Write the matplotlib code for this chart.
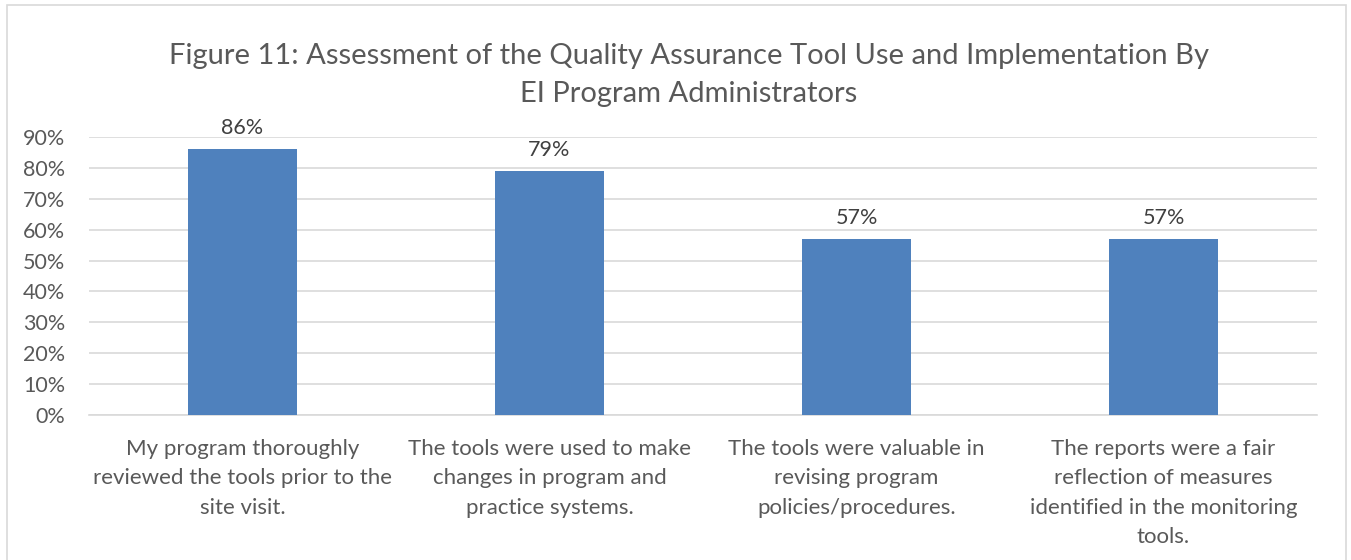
import numpy as np
import matplotlib.pyplot as plt
from matplotlib.patches import Rectangle

plt.rcParams['font.family'] = ['Lato', 'DejaVu Sans']

categories = [
    'My program thoroughly\nreviewed the tools prior to the\nsite visit.',
    'The tools were used to make\nchanges in program and\npractice systems.',
    'The tools were valuable in\nrevising program\npolicies/procedures.',
    'The reports were a fair\nreflection of measures\nidentified in the monitoring\ntools.',
]
values = [0.86, 0.79, 0.57, 0.57]
yticks = [0, 0.1, 0.2, 0.3, 0.4, 0.5, 0.6, 0.7, 0.8, 0.9]
ytick_labels = ['0%', '10%', '20%', '30%', '40%', '50%', '60%', '70%', '80%', '90%']

text_color = '#595959'
grid_color = '#D9D9D9'

fig = plt.figure(figsize=(13.51, 5.6), dpi=100)
fig.patches.append(Rectangle((7 / 1351, -0.1), 1339 / 1351, 1.1 - 5 / 560,
                             transform=fig.transFigure, fill=False,
                             edgecolor=grid_color, linewidth=1.2))

ax = fig.add_axes([89 / 1351, 145 / 560, 1228 / 1351, 278 / 560])
x = np.arange(len(categories))
bars = ax.bar(x, values, width=0.355, color='#4F81BD', zorder=3)

for b, v in zip(bars, values):
    ax.text(b.get_x() + b.get_width() / 2, v + 0.037, f'{v:.0%}',
            ha='center', va='bottom', fontsize=15.5, color='#404040')

ax.set_xlim(-0.5, len(categories) - 0.5)
ax.set_ylim(0, 0.9)
ax.set_yticks(yticks)
ax.set_yticklabels(ytick_labels, fontsize=15.5, color=text_color)
ax.set_xticks(x)
ax.set_xticklabels(categories, fontsize=16, color=text_color, linespacing=1.6)
ax.tick_params(axis='both', length=0)
ax.tick_params(axis='y', pad=17)
ax.tick_params(axis='x', pad=17)
ax.grid(axis='y', color=grid_color, linewidth=1.2, zorder=0)
for s in ['top', 'right', 'left']:
    ax.spines[s].set_visible(False)
ax.spines['bottom'].set_color(grid_color)
ax.spines['bottom'].set_linewidth(1.2)

fig.text(0.51, 0.866, 'Figure 11: Assessment of the Quality Assurance Tool Use and Implementation By\nEI Program Administrators',
         ha='center', va='center', fontsize=21, color=text_color, linespacing=1.55)

fig.savefig('out.png', dpi=100)
